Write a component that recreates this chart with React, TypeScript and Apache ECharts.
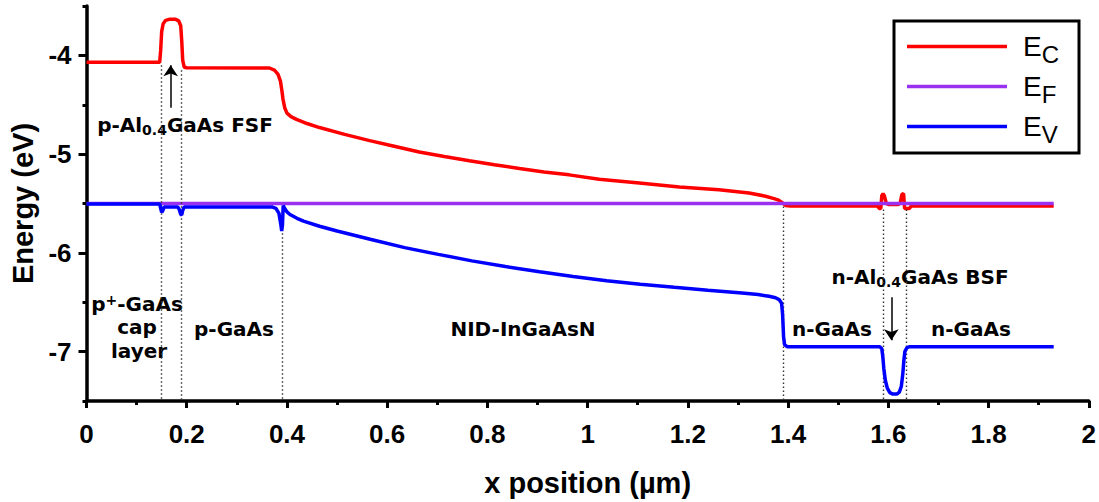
import React, { useEffect, useRef } from "react";
import * as echarts from "echarts";

// Conduction band edge E_C (x in µm, energy in eV)
const ecData: [number, number][] = [
  [0, -4.07], [0.146, -4.07], [0.148, -3.95], [0.15, -3.76], [0.153, -3.68], [0.158, -3.645],
  [0.165, -3.635], [0.178, -3.635], [0.184, -3.65], [0.188, -3.7], [0.19, -3.85], [0.192, -4.05],
  [0.195, -4.12], [0.2, -4.125], [0.365, -4.128], [0.375, -4.15], [0.382, -4.19], [0.387, -4.26],
  [0.39, -4.36], [0.392, -4.44], [0.3955, -4.53], [0.4, -4.585], [0.408, -4.62], [0.419, -4.648],
  [0.44, -4.69], [0.465, -4.731], [0.515, -4.8], [0.565, -4.863], [0.614, -4.92], [0.664, -4.979],
  [0.714, -5.025], [0.764, -5.068], [0.814, -5.108], [0.864, -5.145], [0.913, -5.18], [0.963, -5.21],
  [1.023, -5.254], [1.103, -5.293], [1.183, -5.333], [1.262, -5.36], [1.322, -5.393], [1.355, -5.426],
  [1.372, -5.45], [1.381, -5.465], [1.389, -5.495], [1.395, -5.52], [1.405, -5.525], [1.578, -5.525],
  [1.582, -5.55], [1.585, -5.55], [1.587, -5.42], [1.5895, -5.4], [1.592, -5.42], [1.596, -5.5],
  [1.6, -5.51], [1.62, -5.51], [1.624, -5.49], [1.627, -5.41], [1.6305, -5.4], [1.6325, -5.55],
  [1.642, -5.55], [1.646, -5.525], [1.93, -5.525],
];

// Fermi level E_F
const efData: [number, number][] = [
  [0, -5.5], [1.93, -5.5],
];

// Valence band edge E_V
const evData: [number, number][] = [
  [0, -5.505], [0.146, -5.505], [0.148, -5.55], [0.15, -5.59], [0.152, -5.575], [0.155, -5.535],
  [0.182, -5.535], [0.185, -5.56], [0.188, -5.61], [0.19, -5.615], [0.192, -5.57], [0.195, -5.535],
  [0.37, -5.535], [0.378, -5.55], [0.384, -5.6], [0.388, -5.72], [0.3895, -5.78], [0.391, -5.72],
  [0.3925, -5.52], [0.395, -5.545], [0.4, -5.585], [0.406, -5.611], [0.42, -5.65], [0.433, -5.679],
  [0.465, -5.73], [0.5, -5.779], [0.568, -5.865], [0.635, -5.947], [0.702, -6.015], [0.769, -6.081],
  [0.836, -6.138], [0.904, -6.192], [0.971, -6.24], [1.038, -6.282], [1.105, -6.318], [1.173, -6.349],
  [1.24, -6.378], [1.308, -6.406], [1.34, -6.422], [1.362, -6.44], [1.375, -6.455], [1.382, -6.473],
  [1.387, -6.51], [1.389, -6.62], [1.391, -6.85], [1.393, -6.93], [1.398, -6.95], [1.583, -6.95],
  [1.587, -6.97], [1.589, -7.05], [1.591, -7.17], [1.594, -7.29], [1.598, -7.37], [1.603, -7.415],
  [1.609, -7.43], [1.617, -7.43], [1.622, -7.41], [1.626, -7.35], [1.629, -7.22], [1.631, -7.09],
  [1.633, -7.0], [1.637, -6.96], [1.643, -6.95], [1.93, -6.95],
];

// Layer boundaries (dotted lines): x position and top energy
const boundaryX = [0.15, 0.19, 0.39, 1.39, 1.59, 1.635];
const boundaryTop = [-4.1, -4.15, -5.8, -5.53, -5.56, -5.56];

// Arrows: [x, tailEnergy, headEnergy]
const arrowFSF = [0.168, -4.53, -4.1];
const arrowBSF = [1.606, -6.45, -6.885];

const yMajorTicks = [-7, -6, -5, -4];
const yMinorTicks = [-7.5, -6.5, -5.5, -4.5, -3.5];

const seriesNames = ["EC", "EF", "EV"];
const seriesColors = ["#ff0000", "#9a30f0", "#0000ff"];

const AXIS_FONT = "Liberation Sans, Arial, sans-serif";
const ANN_FONT = "DejaVu Sans, Verdana, sans-serif";

const annRich = {
  b: { fontFamily: ANN_FONT, fontWeight: "bold", fontSize: 20, color: "#000" },
  sub: { fontFamily: ANN_FONT, fontWeight: "bold", fontSize: 14, color: "#000", padding: [10, 0, 0, 0] },
  sup: { fontFamily: ANN_FONT, fontWeight: "bold", fontSize: 14, color: "#000", padding: [0, 0, 9, 0] },
};

function ann(text: string, x: number, y: number) {
  return {
    type: "text",
    x,
    y,
    silent: true,
    style: {
      text,
      rich: annRich,
      align: "center",
      verticalAlign: "middle",
      fontFamily: ANN_FONT,
      fontWeight: "bold",
      fontSize: 20,
      fill: "#000",
    },
  };
}

export default function App() {
  const ref = useRef<HTMLDivElement>(null);

  useEffect(() => {
    if (!ref.current) return;
    const chart = echarts.init(ref.current, undefined, { renderer: "svg" });
    const axisLineStyle = { color: "#000", width: 3.5 };
    const tickStyle = { color: "#000", width: 3 };
    const labelStyle = { fontFamily: AXIS_FONT, fontWeight: "bold", fontSize: 26, color: "#000" };

    const option: any = {
      animation: false,
      backgroundColor: "#ffffff",
      grid: { left: 86.5, right: 9, top: 6, bottom: 94 },
      legend: {
        data: seriesNames,
        orient: "vertical",
        left: 894,
        top: 21,
        padding: [6, 20, 7, 13],
        borderColor: "#000",
        borderWidth: 3,
        itemWidth: 100,
        itemHeight: 3.5,
        itemGap: 1,
        icon: "rect",
        selectedMode: false,
        formatter: (n: string) => `{e|E}{s|${n.slice(1)}}`,
        textStyle: {
          padding: [0, 0, 0, 11],
          rich: {
            e: { fontFamily: AXIS_FONT, fontSize: 28, color: "#000", lineHeight: 32 },
            s: { fontFamily: AXIS_FONT, fontSize: 24, color: "#000", lineHeight: 32, padding: [15, 0, 0, 0] },
          },
        },
      },
      xAxis: {
        type: "value",
        min: 0,
        max: 2,
        interval: 0.2,
        name: "x position (µm)",
        nameLocation: "middle",
        nameGap: 67,
        nameTextStyle: { fontFamily: AXIS_FONT, fontWeight: "bold", fontSize: 29, color: "#000" },
        axisLine: { show: true, onZero: false, lineStyle: axisLineStyle },
        axisTick: { show: true, inside: false, length: 7, lineStyle: tickStyle },
        minorTick: { show: true, splitNumber: 2, length: 4, lineStyle: tickStyle },
        splitLine: { show: false },
        minorSplitLine: { show: false },
        axisLabel: { margin: 20, ...labelStyle },
      },
      yAxis: [
        {
          type: "value",
          min: -7.5,
          max: -3.5,
          interval: 0.5,
          position: "left",
          name: "Energy (eV)",
          nameLocation: "middle",
          nameGap: 48,
          nameRotate: 90,
          nameTextStyle: { fontFamily: AXIS_FONT, fontWeight: "bold", fontSize: 29, color: "#000" },
          axisLine: { show: true, onZero: false, lineStyle: axisLineStyle },
          axisTick: { show: true, customValues: yMajorTicks, length: 8, lineStyle: tickStyle },
          axisLabel: { customValues: yMajorTicks, margin: 15, ...labelStyle },
          splitLine: { show: false },
        },
        {
          type: "value",
          min: -7.5,
          max: -3.5,
          interval: 0.5,
          position: "left",
          axisLine: { show: false },
          axisTick: { show: true, customValues: yMinorTicks, length: 4, lineStyle: tickStyle },
          axisLabel: { show: false },
          splitLine: { show: false },
        },
      ],
      series: [
        {
          name: seriesNames[0],
          type: "line",
          data: ecData,
          showSymbol: false,
          symbol: "none",
          color: seriesColors[0],
          lineStyle: { color: seriesColors[0], width: 3.5 },
          z: 3,
          markLine: {
            silent: true,
            symbol: ["none", "arrow"],
            symbolSize: 11,
            label: { show: false },
            lineStyle: { color: "#000", width: 1.5, type: "solid" },
            data: [
              [{ coord: [arrowFSF[0], arrowFSF[1]] }, { coord: [arrowFSF[0], arrowFSF[2]] }],
              [{ coord: [arrowBSF[0], arrowBSF[1]] }, { coord: [arrowBSF[0], arrowBSF[2]] }],
            ],
          },
        },
        {
          name: seriesNames[1],
          type: "line",
          data: efData,
          showSymbol: false,
          symbol: "none",
          color: seriesColors[1],
          lineStyle: { color: seriesColors[1], width: 3.5 },
          z: 4,
          markLine: {
            silent: true,
            symbol: ["none", "none"],
            label: { show: false },
            lineStyle: { color: "#333", width: 1.4, type: [1.5, 2.5] },
            data: boundaryX.map((x, i) => [{ coord: [x, boundaryTop[i]] }, { coord: [x, -7.5] }]),
          },
        },
        {
          name: seriesNames[2],
          type: "line",
          data: evData,
          showSymbol: false,
          symbol: "none",
          color: seriesColors[2],
          lineStyle: { color: seriesColors[2], width: 3.5 },
          z: 5,
        },
      ],
      graphic: [
        ann("{b|p-Al}{sub|0.4}{b|GaAs FSF}", 185, 125),
        ann("{b|p}{sup|+}{b|-GaAs}", 137, 304),
        ann("{b|cap}", 137, 327),
        ann("{b|layer}", 139, 351),
        ann("{b|p-GaAs}", 234, 329),
        ann("{b|NID-InGaAsN}", 523, 329),
        ann("{b|n-GaAs}", 832, 329),
        ann("{b|n-Al}{sub|0.4}{b|GaAs BSF}", 920, 277),
        ann("{b|n-GaAs}", 971, 329),
      ],
    };
    chart.setOption(option);
    return () => chart.dispose();
  }, []);

  return (
    <div
      ref={ref}
      style={{ position: "fixed", left: 0, top: 0, width: 1099, height: 502, background: "#fff" }}
    />
  );
}
